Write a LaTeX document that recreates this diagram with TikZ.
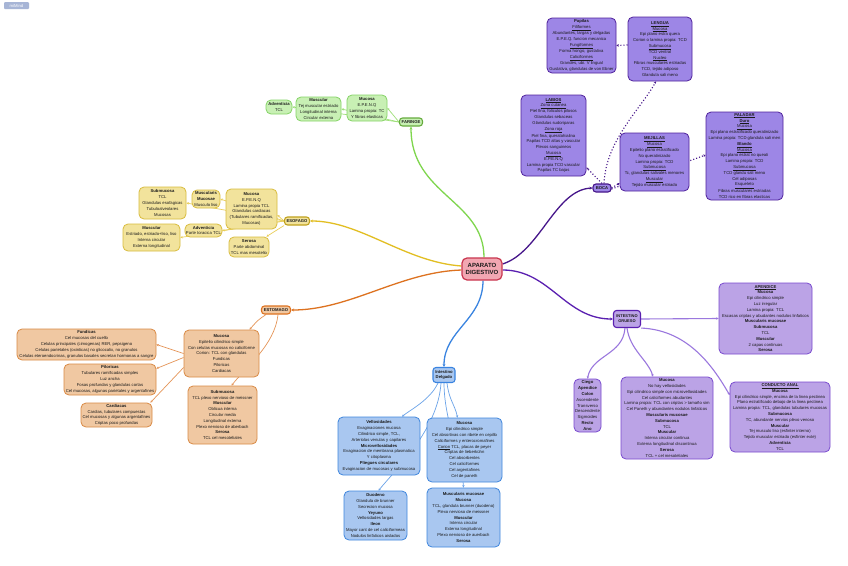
\documentclass[tikz,border=0pt]{standalone}
\usepackage{fontspec}
\setmainfont{Liberation Sans}
\usetikzlibrary{arrows.meta,positioning,backgrounds}
\definecolor{Ink}{HTML}{1A1A1A}
\definecolor{RootFill}{HTML}{F2A7B2}
\definecolor{RootLine}{HTML}{C9364F}
\definecolor{FarFill}{HTML}{C8F0B4}
\definecolor{FarLine}{HTML}{85D366}
\definecolor{FarBranch}{HTML}{7FD64E}
\definecolor{EsoFill}{HTML}{F2E39C}
\definecolor{EsoLine}{HTML}{D8BC3E}
\definecolor{EsoBranch}{HTML}{E2BE22}
\definecolor{EstFill}{HTML}{F0C8A2}
\definecolor{EstLine}{HTML}{D98A45}
\definecolor{EstBranch}{HTML}{DD7220}
\definecolor{DelFill}{HTML}{A9C7F0}
\definecolor{DelLine}{HTML}{3F86DD}
\definecolor{DelBranch}{HTML}{3A84E0}
\definecolor{GruFill}{HTML}{BBA3E6}
\definecolor{GruLine}{HTML}{7A4BCF}
\definecolor{GruTwig}{HTML}{9B78DE}
\definecolor{GruBranch}{HTML}{5A1FB0}
\definecolor{BocaFill}{HTML}{9D86E6}
\definecolor{BocaLine}{HTML}{50229C}
\definecolor{BocaBranch}{HTML}{46168A}
\definecolor{LogoFill}{HTML}{A7B5D6}
\tikzset{
  rootbox/.style={draw=RootLine,fill=RootFill,rounded corners=5pt,line width=1.2pt,minimum width=40pt,minimum height=22pt,align=center,font=\fontsize{6}{7.6}\selectfont\bfseries,text=Ink,inner sep=1pt},
  tagbox/.style={rounded corners=3pt,line width=1.1pt,minimum height=8pt,inner xsep=1.5pt,inner ysep=0.6pt,align=center,font=\fontsize{4.2}{5}\selectfont\bfseries,text=Ink},
  notebox/.style={rounded corners=5pt,line width=0.8pt,align=center,font=\fontsize{4.2}{5.8}\selectfont,text=Ink,inner sep=1pt},
  farbox/.style={notebox,draw=FarLine,fill=FarFill},
  esobox/.style={notebox,draw=EsoLine,fill=EsoFill},
  estbox/.style={notebox,draw=EstLine,fill=EstFill},
  delbox/.style={notebox,draw=DelLine,fill=DelFill},
  grubox/.style={notebox,draw=GruLine,fill=GruFill},
  bocabox/.style={notebox,draw=BocaLine,fill=BocaFill},
  branch/.style={-{Stealth[length=3pt,width=3pt]},line width=1.3pt},
  twig/.style={-{Stealth[length=2.4pt,width=2.4pt]},line width=0.7pt},
  dotline/.style={-{Stealth[length=2.4pt,width=2.6pt]},line width=1.1pt,dotted,draw=BocaBranch}
}
\begin{document}
\begin{tikzpicture}[x=1pt,y=-1pt]
  \useasboundingbox (0,0) rectangle (848,565);
  \node[fill=LogoFill,rounded corners=1pt,minimum width=25pt,minimum height=7pt,inner sep=0.5pt,font=\fontsize{4.2}{5}\selectfont,text=white] (logo) at (16.5,5.5) {miMind};

  \node[rootbox] (root) at (482,269) {APARATO\\DIGESTIVO};

  % faringe
  \node[tagbox,draw=FarBranch!80!black,fill=FarFill,minimum width=23pt] (far) at (411,122) {FARINGE};
  \node[farbox,minimum width=40pt,minimum height=26pt] (fmuc) at (367,108) {\textbf{Mucosa}\\E.P.E.N.Q\\Lamina propia: TC\\Y fibras elasticas};
  \node[farbox,minimum width=45pt,minimum height=24pt] (fmus) at (318.5,109) {\textbf{Muscular}\\Tej muscular estriado\\Longitudinal interna\\Circular externa};
  \node[farbox,minimum width=26pt,minimum height=14pt] (fadv) at (279,107) {\textbf{Adventicia}\\TCL};

  % esofago
  \node[tagbox,draw=EsoBranch!85!black,fill=EsoFill,minimum width=25pt] (eso) at (297,221) {ESOFAGO};
  \node[esobox,minimum width=51pt,minimum height=40pt] (emuc) at (251.5,209) {\textbf{Mucosa}\\E.P.E.N.Q\\Lamina propia TCL\\Glandulas cardiacas\\(Tubulares ramificadas,\\Mucosas)};
  \node[esobox,minimum width=28pt,minimum height=18pt] (emm) at (206,199) {\textbf{Muscularis}\\\textbf{Mucosae}\\Musculo liso};
  \node[esobox,minimum width=47pt,minimum height=32pt] (esub) at (162.5,203) {\textbf{Submucosa}\\TCL\\Glandulas esofagicas\\Tubuloalveolares\\Mucosas};
  \node[esobox,minimum width=37pt,minimum height=13pt] (eadv) at (203.5,230.5) {\textbf{Adventicia}\\Parte toracica TCL};
  \node[esobox,minimum width=57pt,minimum height=27pt] (emus) at (151.5,237.5) {\textbf{Muscular}\\Estriado, estriado+liso, liso\\Interna circular\\Externa longitudinal};
  \node[esobox,minimum width=40pt,minimum height=20pt] (eser) at (249,247) {\textbf{Serosa}\\Parte abdominal\\TCL mas mesotelio};

  % estomago
  \node[tagbox,draw=EstBranch,fill=EstFill,minimum width=29pt] (est) at (276,310) {ESTOMAGO};
  \node[estbox,minimum width=75pt,minimum height=47pt] (smuc) at (221.5,353.5) {\textbf{Mucosa}\\Epitelio cilindrico simple\\Con celulas mucosas no caliciforme\\Corion: TCL con glandulas\\Fundicas\\Piloricas\\Cardiacas};
  \node[estbox,minimum width=69pt,minimum height=58pt] (ssub) at (222.5,415) {\textbf{Submucosa}\\TCL plexo nervioso de meissner\\\textbf{Muscular}\\Oblicua interna\\Circular media\\Longitudinal externa\\Plexo nervioso de aberbach\\\textbf{Serosa}\\TCL cel mesoteliales};
  \node[estbox,minimum width=139pt,minimum height=31pt] (fund) at (86.5,344.5) {\textbf{Fundicas}\\Cel mucosas del cuello\\Celulas principales (cimogenas) RER, pepsigeno\\Celulas parietales (oxinticas) no glicocalix, no granulos\\Celulas eteroendocrinas, granulos basales secretan hormonas a sangre};
  \node[estbox,minimum width=92pt,minimum height=31pt] (pil) at (110,379.5) {\textbf{Piloricas}\\Tubulares ramificadas simples\\Luz ancha\\Fosas profundas y glandulas cortas\\Cel mucosas, algunas parietales y argentafines};
  \node[estbox,minimum width=71pt,minimum height=24pt] (card) at (116.5,415) {\textbf{Cardiacas}\\Cardias, tubulares compuestas\\Cel mucosas y algunas argentafines\\Criptas poco profundas};

  % intestino delgado
  \node[tagbox,draw=DelBranch,fill=DelFill,minimum width=22pt,minimum height=15pt] (del) at (444,375) {Intestino\\Delgado};
  \node[delbox,minimum width=82pt,minimum height=58pt] (vell) at (379,446) {\textbf{Vellosidades}\\Evaginaciones mucosa\\Cilindrico simple, TCL,\\Arteriolas venulas y capilares\\\textbf{Microvellosidades}\\Evaginacion de membrana plasmatica\\Y citoplasma\\\textbf{Pliegues circulares}\\Evaginacion de mucosas y submucosa};
  \node[delbox,minimum width=75pt,minimum height=64pt] (dmuc) at (464.5,450) {\textbf{Mucosa}\\Epi cilindrico simple\\Cel absortivas con ribete en cepillo\\Caliciformes y enterocromafines\\\underline{Corion} TCL, placas de peyer\\Criptas de lieberk\"uhn\\Cel absorbentes\\Cel caliciformes\\Cel argentafines\\Cel de paneth};
  \node[delbox,minimum width=63pt,minimum height=49pt] (duo) at (375.5,515.5) {\textbf{Duodeno}\\Glandula de brunner\\Secrecion mucosa\\\textbf{Yeyuno}\\Vellosidades largas\\\textbf{Ileon}\\Mayor cant de cel caliciformeas\\Nodulos linfaticos aislados};
  \node[delbox,minimum width=73pt,minimum height=59pt] (dmm) at (463.5,517.5) {\textbf{Muscularis mucosae}\\\textbf{Mucosa}\\TCL, glandula brunner (duodeno)\\Plexo nervioso de meissner\\\textbf{Muscular}\\Interna circular\\Externa longitudinal\\Plexo nervioso de auerbach\\\textbf{Serosa}};

  % intestino grueso
  \node[tagbox,draw=GruBranch,fill=GruFill,minimum width=27pt,minimum height=17pt,font=\fontsize{4}{5}\selectfont\bfseries] (gru) at (627,319) {INTESTINO\\GRUESO};
  \node[grubox,minimum width=93pt,minimum height=71pt] (ap) at (765.5,318.5) {\textbf{\underline{APENDICE}}\\\textbf{Mucosa}\\Epi cilindrico simple\\Luz irregular\\Lamina propia: TCL\\Escasas criptas y abudantes nodulos linfaticos\\\textbf{Muscularis mucosae}\\\textbf{Submucosa}\\TCL\\\textbf{Muscular}\\2 capas continuas\\\textbf{Serosa}};
  \node[grubox,minimum width=27pt,minimum height=53pt] (cie) at (587.5,405.5) {\textbf{Ciego}\\\textbf{Apendice}\\\textbf{Colon}\\Ascendente\\Transverso\\Descendente\\Sigmoides\\\textbf{Recto}\\\textbf{Ano}};
  \node[grubox,minimum width=92pt,minimum height=82pt] (gmuc) at (667,418) {\textbf{Mucosa}\\No hay vellosidades\\Epi cilindrico simple con microvellosidades\\Cel caliciformes abudantes\\Lamina propia: TCL con criptas > tama\~no sim\\Cel Paneth y abundantes nodulos linfaticos\\\textbf{Muscularis mucosae}\\\textbf{Submucosa}\\TCL\\\textbf{Muscular}\\Interna circular continua\\Externa longitudinal discontinua\\\textbf{Serosa}\\TCL + cel mesoteliales};
  \node[grubox,minimum width=100pt,minimum height=70pt] (ca) at (780,417) {\textbf{\underline{CONDUCTO ANAL}}\\\textbf{Mucosa}\\Epi cilindrico simple, encima de la linea pectinea\\Plano estratificado debajo de la linea pectinea\\Lamina propia: TCL, glandulas tubulares mucosas\\\textbf{Submucosa}\\TC, abundante nervios plexo venoso\\\textbf{Muscular}\\Tej musculo liso (esfinter interno)\\Tejido muscular estriado (esfinter exte)\\\textbf{Adventicia}\\TCL};

  % boca
  \node[tagbox,draw=BocaBranch,fill=BocaFill,minimum width=18pt] (boca) at (602,188) {BOCA};
  \node[bocabox,minimum width=69pt,minimum height=55pt] (pap) at (581.5,45.5) {\textbf{Papilas}\\\underline{Filiformes}\\Abundantes, largas y delgadas\\E.P.E.Q. funcion mecanica\\\underline{Fungiformes}\\Forma hongo, gustativa\\\underline{Caliciformes}\\Grandes, ubi. V lingual\\Gustativa, glandulas de von Ebner};
  \node[bocabox,minimum width=64pt,minimum height=64pt] (leng) at (660,49) {\textbf{\underline{LENGUA}}\\\underline{Mucosa}\\Epi plano estra quera\\Corion o lamina propia: TCD\\\underline{Submucosa}\\TCD ventral\\\underline{Nucleo}\\Fibras musculares estriadas\\TCD, tejido adiposo\\Glandula sali meno};
  \node[bocabox,minimum width=65pt,minimum height=81pt] (lab) at (553.5,135.5) {\textbf{\underline{LABIOS}}\\\underline{Zona cutanea}\\Piel fina, foliculos pilosos\\Glandulas sebaceas\\Glandulas sudoriparas\\\underline{Zona roja}\\Piel fina, queratohialina\\Papilas TCD altas y vascular\\Plexos sanguineos\\\underline{Mucosa}\\E.P.E.N.Q\\Lamina propia TCD vascular\\Papilas TC bajas};
  \node[bocabox,minimum width=69pt,minimum height=58pt] (mej) at (654.5,162) {\textbf{\underline{MEJILLAS}}\\\underline{Mucosa}\\Epitelio plano estratificado\\No queratinizado\\Lamina propia: TCD\\\underline{Submucosa}\\Tc, glandulas salivales menores\\\underline{Muscular}\\Tejido muscular estriado};
  \node[bocabox,minimum width=77pt,minimum height=88pt] (pal) at (744.5,156) {\textbf{\underline{PALADAR}}\\\textbf{\underline{Duro}}\\\underline{Mucosa}\\Epi plano estratificado queratinizado\\Lamina propia: TCD glandula sali men\\\textbf{\underline{Blando}}\\\underline{Mucosa}\\Epi plano estrat no queati\\Lamina propia: TCD\\\underline{Submucosa}\\TCD glandu sali meno\\Cel adiposas\\\underline{Esqueleto}\\Fibras musculares estriadas\\TCD rico en fibras elasticas};

  \begin{pgfonlayer}{background}
    \fill[white] (0,0) rectangle (848,565);
    % ramas principales
    \draw[branch,FarBranch] ([xshift=2pt]root.north) .. controls (484,200) and (411,195) .. (far.south);
    \draw[branch,EsoBranch] ([yshift=3pt]root.west) .. controls (405,262) and (360,221) .. (eso.east);
    \draw[branch,EstBranch] ([yshift=-1pt]root.west) .. controls (400,272) and (350,310) .. (est.east);
    \draw[branch,DelBranch] ([xshift=1pt]root.south) .. controls (483,320) and (444,330) .. (del.north);
    \draw[branch,BocaBranch] ([yshift=5pt]root.east) .. controls (540,252) and (555,190) .. (boca.west);
    \draw[branch,GruBranch] ([yshift=-1pt]root.east) .. controls (550,270) and (565,319) .. (gru.west);

    \draw[twig,FarBranch!75] (far.west) -- (fmuc.east);
    \draw[twig,FarBranch!75] (far.west) -- (fmus.east);
    \draw[twig,FarBranch!75] (far.west) -- (fadv.east);

    \draw[twig,EsoBranch!75] (eso.west) -- ([yshift=-6pt]emuc.east);
    \draw[twig,EsoBranch!75] (eso.west) -- (emm.east);
    \draw[twig,EsoBranch!75] (eso.west) -- (esub.east);
    \draw[twig,EsoBranch!75] (eso.west) -- (eadv.east);
    \draw[twig,EsoBranch!75] (eso.west) -- (emus.east);
    \draw[twig,EsoBranch!75] (eso.south west) -- ([xshift=-3pt]eser.north east);

    \draw[twig,EstBranch!75] ([xshift=-10pt]est.south) .. controls (258,320) .. ([xshift=28pt]smuc.north);
    \draw[twig,EstBranch!75] ([xshift=2pt]est.south) .. controls (275,345) and (245,368) .. ([xshift=9pt]ssub.north);
    \draw[twig,EstBranch!75] (smuc.west) -- (fund.east);
    \draw[twig,EstBranch!75] ([yshift=-4pt]smuc.west) -- ([yshift=11pt]pil.east);
    \draw[twig,EstBranch!75] ([yshift=-14pt]smuc.west) -- ([xshift=-2pt]card.north east);

    \draw[twig,DelBranch!75] ([xshift=-6pt]del.south) .. controls (430,400) and (410,410) .. ([xshift=23pt]vell.north);
    \draw[twig,DelBranch!75] ([xshift=-3pt]del.south) .. controls (438,430) and (395,470) .. ([xshift=3pt]duo.north);
    \draw[twig,DelBranch!75] ([xshift=3pt]del.south) .. controls (449,400) and (455,405) .. ([xshift=-7pt]dmuc.north);
    \draw[twig,DelBranch!75] (del.south) .. controls (444,420) and (462,460) .. (dmm.north);

    \draw[twig,GruTwig,line width=1.1pt] (gru.east) -- (ap.west);
    \draw[twig,GruTwig,line width=1.1pt] ([xshift=-2pt]gru.south) .. controls (623,355) and (592,355) .. (cie.north);
    \draw[twig,GruTwig,line width=1.1pt] (gru.south) .. controls (630,350) and (648,360) .. ([xshift=-14pt]gmuc.north);
    \draw[twig,GruTwig,line width=1.1pt] (gru.south east) .. controls (690,330) and (715,370) .. ([yshift=22pt]ca.west);

    \draw[dotline] (boca.north) -- ([yshift=-32pt]lab.east);
    \draw[dotline] ([xshift=2pt]boca.north) .. controls (606,140) and (640,110) .. ([xshift=-4pt]leng.south);
    \draw[dotline] (boca.east) -- ([yshift=-21pt]mej.west);
    \draw[dotline] ([yshift=-1pt]boca.east) -- ([yshift=1pt]pal.west);
    \draw[dotline] ([yshift=4pt]leng.west) -- (pap.east);
  \end{pgfonlayer}
\end{tikzpicture}
\end{document}
